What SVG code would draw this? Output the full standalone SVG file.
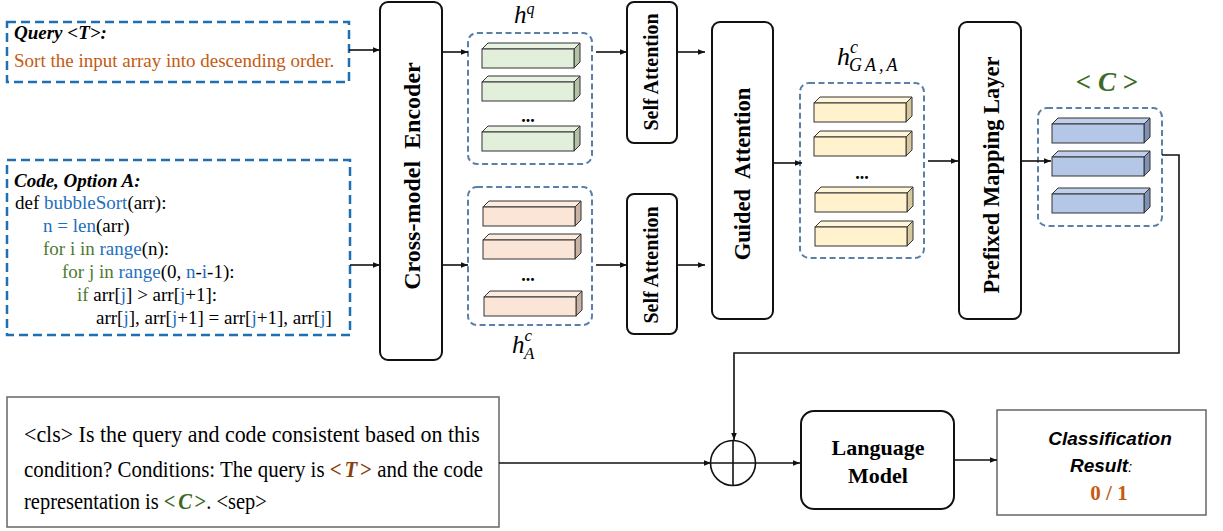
<svg xmlns="http://www.w3.org/2000/svg" width="1223" height="531" viewBox="0 0 1223 531">
<style>
.serif{font-family:"Liberation Serif","Times New Roman",serif}
.dashbig{fill:none;stroke:#1f6fb5;stroke-width:2.5;stroke-dasharray:9,5}
.dashc{fill:none;stroke:#5b80a8;stroke-width:2;stroke-dasharray:6,3.5}
.box{fill:#fff;stroke:#111;stroke-width:2}
.gbox{fill:#fff;stroke:#666;stroke-width:1.5}
.conn{fill:none;stroke:#111;stroke-width:1.6}
.vt{font-family:"Liberation Serif","Times New Roman",serif;font-weight:bold;text-anchor:middle;white-space:pre}
.blue{fill:#1f6fbf}
.green{fill:#4e7a2f}
.bs{stroke:#333;stroke-width:1}
.tb{font-weight:bold;fill:#8a3f0e}
.cb{font-weight:bold;fill:#3d6b26}
</style>
<defs>
<marker id="arr" viewBox="0 0 10 10" refX="10" refY="5" markerWidth="7" markerHeight="7" orient="auto" markerUnits="userSpaceOnUse">
<path d="M0,1 L10,5 L0,9 z" fill="#111"/>
</marker>
<g id="bg">
<polygon class="bs" points="0,6 6,0 98,0 92,6" fill="#e9f3e3"/>
<polygon class="bs" points="92,6 98,0 98,19 92,25" fill="#b3c2a6"/>
<rect class="bs" x="0" y="6" width="92" height="19" fill="#e2efda"/>
</g>
<g id="bp">
<polygon class="bs" points="0,6 6,0 98,0 92,6" fill="#fcebdf"/>
<polygon class="bs" points="92,6 98,0 98,19 92,25" fill="#c8b2a4"/>
<rect class="bs" x="0" y="6" width="92" height="19" fill="#fbe5d6"/>
</g>
<g id="by">
<polygon class="bs" points="0,6 6,0 98,0 92,6" fill="#fff5d8"/>
<polygon class="bs" points="92,6 98,0 98,19 92,25" fill="#d5c79e"/>
<rect class="bs" x="0" y="6" width="92" height="19" fill="#fff2cc"/>
</g>
<g id="bb">
<polygon class="bs" points="0,6 6,0 98,0 92,6" fill="#c0d0ea"/>
<polygon class="bs" points="92,6 98,0 98,19 92,25" fill="#7f92b3"/>
<rect class="bs" x="0" y="6" width="92" height="19" fill="#b4c7e7"/>
</g>
</defs>

<g id="query">
<rect class="dashbig" x="7" y="22" width="342" height="60"/>
<text class="serif" x="14" y="39" font-size="19" font-weight="bold" font-style="italic">Query &lt;T&gt;:</text>
<text class="serif" x="14" y="67" font-size="19" fill="#c55a11">Sort the input array into descending order.</text>
</g>

<g id="code">
<rect class="dashbig" x="7" y="160" width="343" height="175"/>
<g class="serif" font-size="19">
<text x="14" y="187" font-weight="bold" font-style="italic">Code, Option A:</text>
<text x="15" y="209">def <tspan class="blue">bubbleSort</tspan>(arr):</text>
<text x="43" y="232"><tspan class="blue">n = len</tspan>(arr)</text>
<text x="43" y="255"><tspan class="green">for i in </tspan><tspan class="blue">range</tspan>(n):</text>
<text x="62" y="278"><tspan class="green">for j in </tspan><tspan class="blue">range</tspan>(0, <tspan class="blue">n</tspan>-<tspan class="blue">i</tspan>-1):</text>
<text x="77" y="301"><tspan class="green">if</tspan> arr[<tspan class="blue">j</tspan>] &gt; arr[<tspan class="blue">j</tspan>+1]:</text>
<text x="96" y="324">arr[<tspan class="blue">j</tspan>], arr[<tspan class="blue">j</tspan>+1] = arr[<tspan class="blue">j</tspan>+1], arr[<tspan class="blue">j</tspan>]</text>
</g>
</g>

<g id="encoder">
<rect class="box" x="380" y="2" width="62" height="358" rx="8"/>
<text class="vt" font-size="24" transform="translate(420,176) rotate(-90)">Cross-model  Encoder</text>
</g>

<g id="hq">
<rect class="dashc" x="468" y="33" width="124" height="131" rx="9"/>
<use href="#bg" x="482" y="43"/>
<use href="#bg" x="482" y="76"/>
<text class="serif" x="528" y="122" font-size="18" font-weight="bold" text-anchor="middle">...</text>
<use href="#bg" x="482" y="126"/>
<text class="serif" x="514" y="23" font-size="25" font-style="italic">h<tspan font-size="16" dy="-9">q</tspan></text>
</g>

<g id="hcA">
<rect class="dashc" x="468" y="187" width="124" height="138" rx="9"/>
<use href="#bp" x="483" y="201"/>
<use href="#bp" x="483" y="234"/>
<text class="serif" x="528" y="281" font-size="18" font-weight="bold" text-anchor="middle">...</text>
<use href="#bp" x="484" y="291"/>
<text class="serif" x="512" y="353" font-size="25" font-style="italic">h<tspan font-size="17" dy="-12">c</tspan><tspan font-size="17" dx="-8" dy="18">A</tspan></text>
</g>

<g id="sa1">
<rect class="box" x="627" y="2" width="50" height="141" rx="7"/>
<text class="vt" font-size="20" transform="translate(658,72) rotate(-90)">Self Attention</text>
</g>
<g id="sa2">
<rect class="box" x="627" y="194" width="50" height="140" rx="7"/>
<text class="vt" font-size="20" transform="translate(658,265) rotate(-90)">Self Attention</text>
</g>

<g id="guided">
<rect class="box" x="712" y="22" width="61" height="297" rx="8"/>
<text class="vt" font-size="22.5" transform="translate(750,174) rotate(-90)">Guided  Attention</text>
</g>

<g id="hga">
<rect class="dashc" x="800" y="83" width="124" height="175" rx="9"/>
<use href="#by" x="814" y="97"/>
<use href="#by" x="814" y="131"/>
<text class="serif" x="862" y="179" font-size="18" font-weight="bold" text-anchor="middle">...</text>
<use href="#by" x="815" y="187"/>
<use href="#by" x="815" y="221"/>
<text class="serif" x="837" y="65" font-size="26" font-style="italic">h<tspan font-size="18" dy="-12">c</tspan><tspan font-size="18" dx="-9" dy="18" letter-spacing="3">GA,A</tspan></text>
</g>

<g id="prefix">
<rect class="box" x="959" y="22" width="62" height="297" rx="8"/>
<text class="vt" font-size="22.5" transform="translate(999,175) rotate(-90)">Prefixed Mapping Layer</text>
</g>

<g id="cvec">
<rect class="dashc" x="1038" y="108" width="124" height="118" rx="9"/>
<use href="#bb" x="1052" y="118"/>
<use href="#bb" x="1052" y="151"/>
<use href="#bb" x="1052" y="188"/>
<text class="serif" x="1107" y="91" font-size="27" font-weight="bold" fill="#3d6b26" text-anchor="middle">&lt; <tspan font-style="italic">C</tspan> &gt;</text>
</g>

<g id="prompt">
<rect class="gbox" x="7" y="397" width="492" height="130"/>
<g class="serif" font-size="22.5">
<text transform="translate(24,442) scale(0.976,1)">&lt;cls&gt; Is the query and code consistent based on this</text>
<text transform="translate(24,477) scale(0.93,1)">condition? Conditions: The query is <tspan class="tb">&lt;</tspan><tspan class="tb" font-style="italic" dx="3">T</tspan><tspan class="tb" dx="3">&gt;</tspan> and the code</text>
<text transform="translate(24,509) scale(0.91,1)">representation is  <tspan class="cb">&lt;</tspan><tspan class="cb" font-style="italic" dx="3">C</tspan><tspan class="cb" dx="3">&gt;</tspan>. &lt;sep&gt;</text>
</g>
</g>

<g id="plus">
<circle cx="733" cy="463" r="22.5" fill="none" stroke="#111" stroke-width="1.6"/>
<line x1="733" y1="440" x2="733" y2="486" stroke="#111" stroke-width="1.6"/>
<line x1="711" y1="463" x2="755" y2="463" stroke="#111" stroke-width="1.6"/>
</g>

<g id="lm">
<rect class="box" x="801" y="411" width="153" height="98" rx="13"/>
<text class="vt" font-size="22" x="878" y="455">Language</text>
<text class="vt" font-size="22" x="878" y="483">Model</text>
</g>

<g id="result">
<rect class="gbox" x="997" y="410" width="209" height="105"/>
<text x="1110" y="445" font-family="Liberation Sans,Arial,sans-serif" font-size="19" font-weight="bold" font-style="italic" text-anchor="middle">Classification</text>
<text x="1070" y="472" font-family="Liberation Sans,Arial,sans-serif" font-size="19" font-weight="bold" font-style="italic">Result<tspan font-weight="normal" font-size="15">:</tspan></text>
<text class="serif" x="1109" y="500" font-size="21" font-weight="bold" fill="#c55a11" text-anchor="middle">0 / 1</text>
</g>

<g id="connectors">
<line class="conn" x1="349" y1="50" x2="380" y2="50" marker-end="url(#arr)"/>
<line class="conn" x1="350" y1="265" x2="380" y2="265" marker-end="url(#arr)"/>
<line class="conn" x1="442" y1="52" x2="468" y2="52" marker-end="url(#arr)"/>
<line class="conn" x1="442" y1="265" x2="468" y2="265" marker-end="url(#arr)"/>
<line class="conn" x1="596" y1="52" x2="627" y2="52" marker-end="url(#arr)"/>
<line class="conn" x1="596" y1="265" x2="627" y2="265" marker-end="url(#arr)"/>
<line class="conn" x1="677" y1="52" x2="705" y2="52" marker-end="url(#arr)"/>
<line class="conn" x1="677" y1="265" x2="705" y2="265" marker-end="url(#arr)"/>
<line class="conn" x1="773" y1="163" x2="802" y2="163" marker-end="url(#arr)"/>
<line class="conn" x1="928" y1="161" x2="958" y2="161" marker-end="url(#arr)"/>
<line class="conn" x1="1021" y1="161" x2="1051" y2="161" marker-end="url(#arr)"/>
<polyline class="conn" points="1162,155 1179,155 1179,353 734,353 734,440" marker-end="url(#arr)"/>
<line class="conn" x1="499" y1="463" x2="711" y2="463" marker-end="url(#arr)"/>
<line class="conn" x1="755" y1="463" x2="800" y2="463" marker-end="url(#arr)"/>
<line class="conn" x1="954" y1="460" x2="997" y2="460" marker-end="url(#arr)"/>
</g>
</svg>
